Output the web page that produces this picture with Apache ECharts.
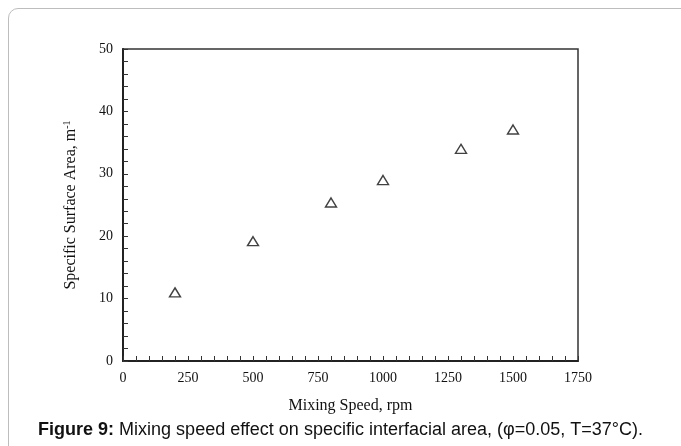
<!DOCTYPE html>
<html>
<head>
<meta charset="utf-8">
<script src="https://cdn.jsdelivr.net/npm/echarts@6/dist/echarts.min.js"></script>
<style>
    html, body { margin: 0; padding: 0; background: #fff; overflow: hidden; }
    #frame { position: absolute; left: 8px; top: 8px; width: 720px; height: 500px;
             border: 1px solid #bdbdbd; border-radius: 10px; }
    #chart { position: absolute; left: 0; top: 0; width: 681px; height: 446px; }
</style>
</head>
<body>
<div id="frame"></div>
<div id="chart"></div>
<script>
    // mixing speed (rpm) vs specific surface area (m^-1)
    var speeds = [200, 500, 800, 1000, 1300, 1500];
    var areas = [11.0, 19.2, 25.4, 29.0, 34.0, 37.1];
    var xTicks = [0, 250, 500, 750, 1000, 1250, 1500, 1750];
    var yTicks = [0, 10, 20, 30, 40, 50];

    var serif = '"Liberation Serif", "DejaVu Serif", serif';
    var chart = echarts.init(document.getElementById('chart'));

    var points = speeds.map(function (s, i) { return [s, areas[i]]; });

    var option = {
        animation: false,
        title: {
            text: '{b|Figure 9:} Mixing speed effect on specific interfacial area, (φ=0.05, T=37°C).',
            left: 'center',
            top: 416,
            textStyle: {
                fontFamily: '"Liberation Sans", Arial, sans-serif',
                fontSize: 18,
                fontWeight: 'normal',
                color: '#111',
                rich: {
                    b: { fontWeight: 'bold', fontSize: 18, color: '#111',
                         fontFamily: '"Liberation Sans", Arial, sans-serif' }
                }
            }
        },
        grid: {
            left: 123, top: 49, right: 103, bottom: 85,
            show: true, borderColor: '#333', borderWidth: 1.5
        },
        xAxis: {
            type: 'value',
            min: xTicks[0],
            max: xTicks[xTicks.length - 1],
            interval: 250,
            name: 'Mixing Speed, rpm',
            nameLocation: 'middle',
            nameGap: 37,
            nameTextStyle: { fontFamily: serif, fontSize: 16, color: '#111' },
            axisLine: { lineStyle: { color: '#222', width: 2 } },
            axisTick: { inside: true, length: 5, lineStyle: { color: '#333' } },
            minorTick: { show: true, splitNumber: 5, length: 5, lineStyle: { color: '#333' } },
            splitLine: { show: false },
            axisLabel: { fontFamily: serif, fontSize: 14, color: '#111', margin: 10,
                         formatter: function (v) { return String(v); } }
        },
        yAxis: {
            type: 'value',
            min: yTicks[0],
            max: yTicks[yTicks.length - 1],
            interval: 10,
            name: '{t|Specific Surface Area, m}{s|-1}',
            nameLocation: 'middle',
            nameGap: 44,
            nameTextStyle: {
                rich: {
                    t: { fontFamily: serif, fontSize: 16, color: '#111' },
                    s: { fontFamily: serif, fontSize: 10, color: '#111', verticalAlign: 'top', padding: [0, 0, 7, 0] }
                }
            },
            axisLine: { lineStyle: { color: '#222', width: 2 } },
            axisTick: { inside: true, length: 5, lineStyle: { color: '#333' } },
            minorTick: { show: true, splitNumber: 5, length: 5, lineStyle: { color: '#333' } },
            splitLine: { show: false },
            axisLabel: { fontFamily: serif, fontSize: 14, color: '#111', margin: 10 }
        },
        series: [{
            type: 'scatter',
            data: points,
            symbol: 'triangle',
            symbolSize: [11, 9],
            itemStyle: { color: 'rgba(255,255,255,0)', borderColor: '#111', borderWidth: 1.4 }
        }]
    };
    chart.setOption(option);
</script>
</body>
</html>
